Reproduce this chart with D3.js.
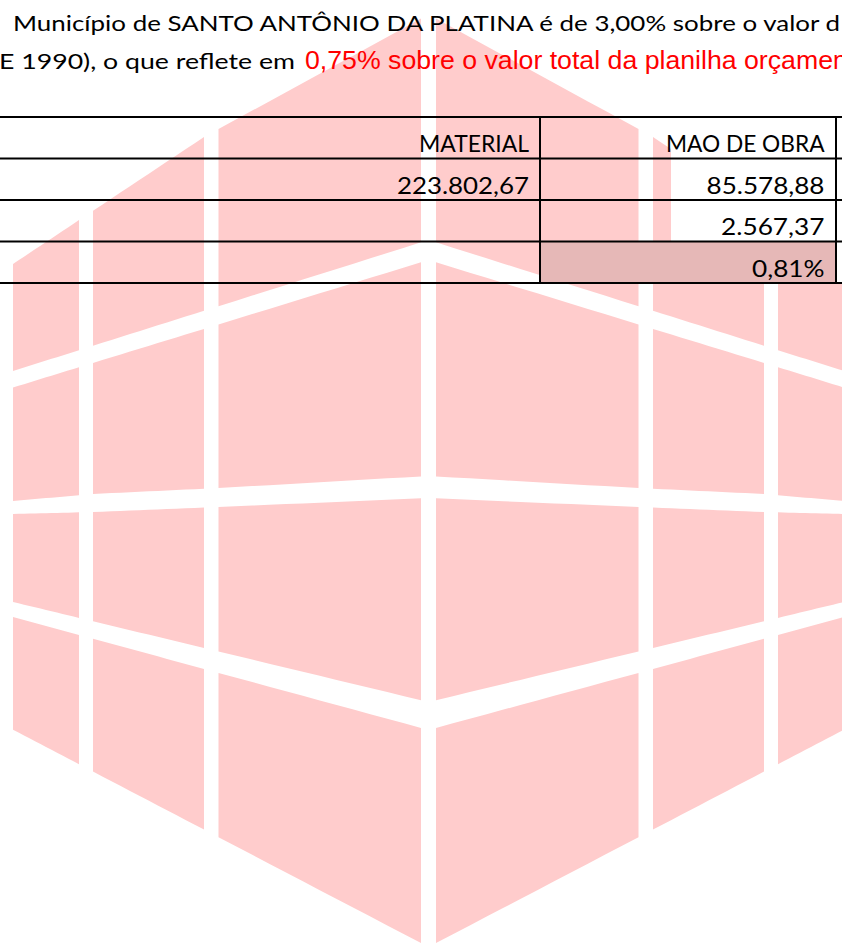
<!DOCTYPE html>
<html>
<head>
<meta charset="utf-8">
<script src="https://cdn.jsdelivr.net/npm/d3@7"></script>
<style>
  body { margin: 0; background: #fff; }
  svg { display: block; }
</style>
</head>
<body>
<svg id="grafico" width="842" height="945"></svg>
<script>
// textos e valores
const linha1 = "Município de SANTO ANTÔNIO DA PLATINA é de 3,00% sobre o valor d";
const linha2Preto = "E 1990), o que reflete em";
const linha2Vermelho = "0,75% sobre o valor total da planilha orçame";
const linha2Resto = "ntária";
const colunas = ["MATERIAL", "MAO DE OBRA"];
const material = ["223.802,67", "", ""];
const maoDeObra = ["85.578,88", "2.567,37", "0,81%"];

// larguras medidas dos textos (px)
const larguras = {
  "MATERIAL": 110, "MAO DE OBRA": 158.5,
  "223.802,67": 132, "85.578,88": 118, "2.567,37": 103.5, "0,81%": 72.5
};

const svg = d3.select("#grafico");
const W = +svg.attr("width");

// ---- marca d'agua (hexagono rosa) ----
const cx = 428.5;
const topo   = d3.scaleLinear().domain([0, 210, 224.5, 415.5]).range([14.5, 129, 137, 264]);
const f1a    = d3.scaleLinear().domain([0, 415.5]).range([240, 371]);
const f1b    = d3.scaleLinear().domain([0, 415.5]).range([260, 387.5]);
const f2a    = d3.scaleLinear().domain([0, 209.5, 335.5, 415.5]).range([476, 488, 494, 501]);
const f2b    = d3.scaleLinear().domain([0, 209.5, 335.5, 415.5]).range([498, 507, 512, 514]);
const f3a    = d3.scaleLinear().domain([0, 415.5]).range([702, 602]);
const f3b    = d3.scaleLinear().domain([0, 415.5]).range([730, 617]);
const base   = d3.scaleLinear().domain([0, 415.5]).range([947, 729.7]);

const faixasD = [[7.5, 210], [224.5, 335.5], [349.5, 415.5]];
const camadas = [[topo, f1a], [f1b, f2a], [f2b, f3a], [f3b, base]];

const marca = svg.append("g");
const line = d3.line();
[-1, 1].forEach(s => {
  faixasD.forEach(([d0, d1]) => {
    const ds = d3.range(13).map(i => d0 + (d1 - d0) * i / 12);
    camadas.forEach(([sup, inf]) => {
      const pts = ds.map(d => [cx + s * d, sup(d)])
        .concat(ds.slice().reverse().map(d => [cx + s * d, inf(d)]));
      marca.append("path")
        .attr("d", line(pts) + "Z")
        .attr("fill", "#FFCCCC");
    });
  });
});

// ---- tabela ----
const y = d3.scaleLinear().domain([0, 4]).range([117, 283]);
const xCol = [540, 836];

// celulas com preenchimento branco
svg.append("rect").attr("x", 671).attr("y", y(0)).attr("width", W - 671).attr("height", y(4) - y(0)).attr("fill", "#fff");
svg.append("rect").attr("x", xCol[0]).attr("y", y(3)).attr("width", xCol[1] - xCol[0]).attr("height", y(4) - y(3)).attr("fill", "#E6B8B7");

// textos do topo
svg.append("text")
  .attr("x", 13).attr("y", 30.5)
  .attr("textLength", 827).attr("lengthAdjust", "spacingAndGlyphs")
  .style("font-family", "Lato").style("font-size", "22px").attr("fill", "#000")
  .text(linha1);
svg.append("text")
  .attr("x", -1).attr("y", 69)
  .attr("textLength", 296).attr("lengthAdjust", "spacingAndGlyphs")
  .style("font-family", "Lato").style("font-size", "22px").attr("fill", "#000")
  .text(linha2Preto);
svg.append("text")
  .attr("x", 305).attr("y", 69)
  .attr("textLength", 528).attr("lengthAdjust", "spacingAndGlyphs")
  .style("font-family", "Liberation Sans").style("font-size", "25px").attr("fill", "#FF0000")
  .text(linha2Vermelho);
svg.append("text")
  .attr("x", 833).attr("y", 69)
  .style("font-family", "Liberation Sans").style("font-size", "25px").attr("fill", "#FF0000")
  .text(linha2Resto);

// conteudo das celulas
const linhas = [colunas, ...material.map((m, i) => [m, maoDeObra[i]])];
const direita = [529, 824.5];
linhas.forEach((row, r) => {
  row.forEach((t, c) => {
    if (!t) return;
    const w = larguras[t];
    svg.append("text")
      .attr("x", direita[c] - w)
      .attr("y", y(r + 1) - 6.5)
      .attr("textLength", w).attr("lengthAdjust", "spacingAndGlyphs")
      .style("font-family", "Lato").style("font-size", "23px").attr("fill", "#000")
      .text(t);
  });
});

// bordas
svg.append("g").selectAll("line").data(d3.range(5)).enter().append("line")
  .attr("x1", 0).attr("x2", W)
  .attr("y1", d => y(d)).attr("y2", d => y(d))
  .attr("stroke", "#000").attr("stroke-width", 2);
svg.append("g").selectAll("line").data(xCol).enter().append("line")
  .attr("x1", d => d).attr("x2", d => d)
  .attr("y1", y(0)).attr("y2", y(4))
  .attr("stroke", "#000").attr("stroke-width", 2);
</script>
</body>
</html>
